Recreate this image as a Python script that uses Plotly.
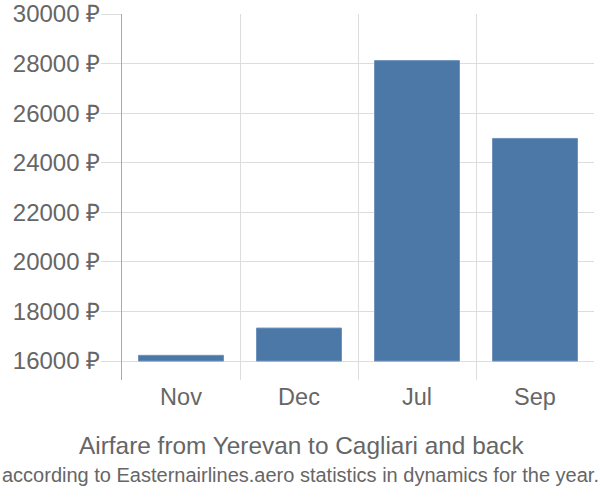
import plotly.graph_objects as go

months = ["Nov", "Dec", "Jul", "Sep"]
prices = [16230, 17330, 28120, 24980]
base_price = 16000
y_ticks = [16000, 18000, 20000, 22000, 24000, 26000, 28000, 30000]
title = "Airfare from Yerevan to Cagliari and back"
subtitle = "according to Easternairlines.aero statistics in dynamics for the year."

FONT = "Liberation Sans"
GRAY = "#666666"

fig = go.Figure(go.Bar(
    x=months,
    y=[p - base_price for p in prices],
    base=base_price,
    marker=dict(color="#4c78a8", line=dict(color="#6f93bd", width=1)),
    hoverinfo="skip",
))

L, R, T, B = 122, 6, 14, 120
fig.update_layout(
    width=600, height=500,
    margin=dict(l=L, r=R, t=T, b=B, autoexpand=False),
    paper_bgcolor="white", plot_bgcolor="white",
    bargap=0.28,
    showlegend=False,
    font=dict(family=FONT, color=GRAY, size=21),
    xaxis=dict(
        type="category",
        tickson="boundaries",
        showgrid=True, gridcolor="#dddddd", gridwidth=1,
        ticks="outside", ticklen=4, tickcolor="rgba(0,0,0,0)",
        showline=False, zeroline=False,
        tickfont=dict(size=23.5, color=GRAY),
    ),
    yaxis=dict(
        range=[15235, 30000],
        tickvals=y_ticks,
        ticktext=[f"{v} ₽" for v in y_ticks],
        showgrid=True, gridcolor="#dddddd", gridwidth=1,
        ticks="outside", ticklen=20, tickcolor="#dddddd",
        ticklabelstandoff=-4,
        showline=True, linecolor="#aaaaaa", linewidth=1,
        zeroline=False,
        tickfont=dict(size=24, color=GRAY),
    ),
)

plot_h = 500 - T - B
plot_w = 600 - L - R
def ypix(py):
    return (500 - B - py) / plot_h

def xpix(px):
    return (px - L) / plot_w

fig.add_annotation(text=title, x=xpix(301), xref="paper", xanchor="center",
                   y=ypix(445), yref="paper", yanchor="middle", showarrow=False,
                   font=dict(size=24.4, color=GRAY, family=FONT))
fig.add_annotation(text=subtitle, x=xpix(300), xref="paper", xanchor="center",
                   y=ypix(475), yref="paper", yanchor="middle", showarrow=False,
                   font=dict(size=20, color=GRAY, family=FONT))

fig.write_html(
    "out.html",
    config={"displayModeBar": False, "staticPlot": True},
    post_script="document.body.style.margin='0';document.body.style.padding='0';",
)
